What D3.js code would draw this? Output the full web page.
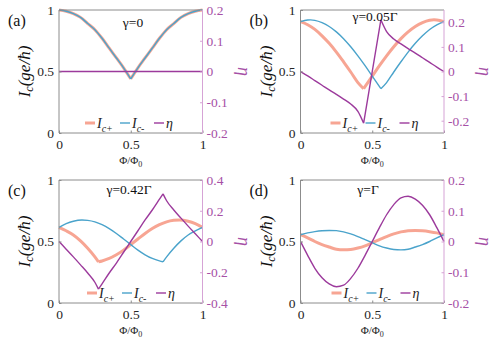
<!DOCTYPE html>
<html>
<head>
<meta charset="utf-8">
<script src="https://cdn.jsdelivr.net/npm/d3@7"></script>
<style>
body { margin: 0; background: #fff; }
svg, svg text { font-family: "Liberation Serif", "Times New Roman", serif; }
svg { display: block; }
</style>
</head>
<body>
<svg id="chart" width="498" height="345"></svg>
<script>
// flux grid, Phi/Phi0
var phi = [0, 0.05, 0.1, 0.15, 0.2, 0.25, 0.3, 0.35, 0.4, 0.45, 0.5,
           0.55, 0.6, 0.65, 0.7, 0.75, 0.8, 0.85, 0.9, 0.95, 1];

// (a) gamma = 0
var icA  = [1.00, 0.99, 0.97, 0.94, 0.89, 0.84, 0.77, 0.69, 0.61, 0.53, 0.44,
            0.53, 0.61, 0.69, 0.77, 0.84, 0.89, 0.94, 0.97, 0.99, 1.00];
var etaA = [0, 0, 0, 0, 0, 0, 0, 0, 0, 0, 0, 0, 0, 0, 0, 0, 0, 0, 0, 0, 0];

// (b) gamma = 0.05 Gamma
var phiPlusB  = [0, 0.05, 0.1, 0.15, 0.2, 0.25, 0.3, 0.35, 0.4, 0.44, 0.5, 0.55,
                 0.6, 0.65, 0.7, 0.75, 0.8, 0.85, 0.9, 0.93, 0.95, 1];
var icPlusB   = [0.905, 0.88, 0.842, 0.79, 0.729, 0.658, 0.579, 0.496, 0.41, 0.36, 0.462, 0.547,
                 0.627, 0.701, 0.767, 0.822, 0.866, 0.897, 0.916, 0.92, 0.919, 0.905];
var phiMinusB = [0, 0.05, 0.07, 0.1, 0.15, 0.2, 0.25, 0.3, 0.35, 0.4, 0.45, 0.5,
                 0.56, 0.6, 0.65, 0.7, 0.75, 0.8, 0.85, 0.9, 0.95, 1];
var icMinusB  = [0.905, 0.919, 0.92, 0.916, 0.897, 0.866, 0.822, 0.767, 0.701, 0.627, 0.547, 0.462,
                 0.36, 0.41, 0.496, 0.579, 0.658, 0.729, 0.79, 0.842, 0.88, 0.905];
var phiEtaB   = [0, 0.05, 0.1, 0.15, 0.2, 0.25, 0.3, 0.35, 0.4, 0.44,
                 0.56, 0.6, 0.65, 0.7, 0.75, 0.8, 0.85, 0.9, 0.95, 1];
var etaB      = [0, -0.018, -0.037, -0.056, -0.075, -0.093, -0.112, -0.132, -0.162, -0.21,
                 0.21, 0.162, 0.132, 0.112, 0.093, 0.075, 0.056, 0.037, 0.018, 0];

// (c) gamma = 0.42 Gamma
var phiPlusC  = [0, 0.05, 0.1, 0.15, 0.2, 0.25, 0.275, 0.3, 0.35, 0.4, 0.45, 0.5,
                 0.55, 0.6, 0.65, 0.7, 0.75, 0.8, 0.84, 0.9, 0.95, 1];
var icPlusC   = [0.615, 0.587, 0.553, 0.505, 0.445, 0.375, 0.335, 0.342, 0.362, 0.392, 0.43, 0.475,
                 0.52, 0.565, 0.605, 0.637, 0.66, 0.672, 0.675, 0.665, 0.645, 0.615];
var phiMinusC = [0, 0.05, 0.1, 0.16, 0.2, 0.25, 0.3, 0.35, 0.4, 0.45, 0.5,
                 0.55, 0.6, 0.65, 0.7, 0.725, 0.75, 0.8, 0.85, 0.9, 0.95, 1];
var icMinusC  = [0.615, 0.645, 0.665, 0.675, 0.672, 0.66, 0.637, 0.605, 0.565, 0.52, 0.475,
                 0.43, 0.392, 0.362, 0.342, 0.335, 0.375, 0.445, 0.505, 0.553, 0.587, 0.615];
var phiEtaC   = [0, 0.05, 0.1, 0.15, 0.2, 0.25, 0.275, 0.3, 0.35, 0.4, 0.45, 0.5,
                 0.55, 0.6, 0.65, 0.7, 0.725, 0.75, 0.8, 0.85, 0.9, 0.95, 1];
var etaC      = [0, -0.05, -0.1, -0.152, -0.205, -0.265, -0.31, -0.275, -0.205, -0.14, -0.07, 0,
                 0.07, 0.14, 0.205, 0.275, 0.31, 0.265, 0.205, 0.152, 0.1, 0.05, 0];

// (d) gamma = Gamma
var icPlusD  = [0.555, 0.53, 0.50, 0.475, 0.455, 0.437, 0.432, 0.435, 0.447, 0.465, 0.49,
                0.515, 0.54, 0.562, 0.578, 0.588, 0.59, 0.587, 0.58, 0.57, 0.555];
var icMinusD = [0.555, 0.57, 0.58, 0.587, 0.59, 0.588, 0.578, 0.562, 0.54, 0.515, 0.49,
                0.465, 0.447, 0.435, 0.432, 0.437, 0.455, 0.475, 0.50, 0.53, 0.555];
var etaD     = [0, -0.045, -0.087, -0.118, -0.138, -0.147, -0.142, -0.12, -0.087, -0.045, 0,
                0.045, 0.087, 0.12, 0.142, 0.147, 0.138, 0.118, 0.087, 0.045, 0];

// cusps (Phi where the curves have a corner)
var cuspsA = [0.5];
var cuspsB = [0.44, 0.56];
var cuspsC = [0.275, 0.725];
var cuspsD = [];

// axis ticks
var xTicks = [0, 0.5, 1];
var icTicks = [0, 0.5, 1];
var etaTicks02 = [-0.2, -0.1, 0, 0.1, 0.2];
var etaTicks04 = [-0.4, -0.2, 0, 0.2, 0.4];

var panelLabels = ["(a)", "(b)", "(c)", "(d)"];
var gammaLabels = ["\u03b3=0", "\u03b3=0.05\u0393", "\u03b3=0.42\u0393", "\u03b3=\u0393"];

var colPlus = "#f7a593",
    colMinus = "#4aa3cb",
    colEta = "#9c3a9c",
    colEtaAxis = "#d6a3d6",
    colEtaText = "#a650a6",
    colAxis = "#8c8c8c",
    colText = "#262626",
    serif = "'Liberation Serif', 'Times New Roman', serif";

function pairs(xs, ys) {
    return xs.map(function(x, i) { return [x, ys[i]]; });
}

var panels = [
    { box: [59, 10, 202.5, 133], etaDomain: [-0.2, 0.2], etaTicks: etaTicks02, cusps: cuspsA,
      plus: pairs(phi, icA), minus: pairs(phi, icA), eta: pairs(phi, etaA),
      titleX: 133, titleY: 26.5, legendX: 26 },
    { box: [300.5, 10, 444, 133], etaDomain: [-0.25, 0.25], etaTicks: etaTicks02, cusps: cuspsB,
      plus: pairs(phiPlusB, icPlusB), minus: pairs(phiMinusB, icMinusB), eta: pairs(phiEtaB, etaB),
      titleX: 375, titleY: 21, legendX: 30 },
    { box: [59, 180, 202.5, 303], etaDomain: [-0.4, 0.4], etaTicks: etaTicks04, cusps: cuspsC,
      plus: pairs(phiPlusC, icPlusC), minus: pairs(phiMinusC, icMinusC), eta: pairs(phiEtaC, etaC),
      titleX: 129, titleY: 194, legendX: 28 },
    { box: [300.5, 180, 444, 303], etaDomain: [-0.2, 0.2], etaTicks: etaTicks02, cusps: cuspsD,
      plus: pairs(phi, icPlusD), minus: pairs(phi, icMinusD), eta: pairs(phi, etaD),
      titleX: 368, titleY: 194, legendX: 31 }
];

var svg = d3.select("#chart");

function fmt(d) {
    return d === 0 ? "0" : String(d);
}

// smooth path that keeps sharp corners at the cusps
function cuspPath(line, pts, cusps) {
    var segs = [[]];
    pts.forEach(function(p) {
        var seg = segs[segs.length - 1];
        seg.push(p);
        if (cusps.some(function(c) { return Math.abs(c - p[0]) < 1e-9; })) {
            segs.push([p]);
        }
    });
    return segs.filter(function(s) { return s.length > 1; })
        .map(function(s) { return line(s); }).join("");
}

function drawPanel(p, idx) {
    var L = p.box[0], T = p.box[1], R = p.box[2], B = p.box[3];
    var x = d3.scaleLinear().domain([0, 1]).range([L, R]);
    var yL = d3.scaleLinear().domain([0, 1]).range([B, T]);
    var yR = d3.scaleLinear().domain(p.etaDomain).range([B, T]);
    var g = svg.append("g");

    // curves
    var lineL = d3.line()
        .x(function(d) { return x(d[0]); })
        .y(function(d) { return yL(d[1]); })
        .curve(d3.curveMonotoneX);
    var lineR = d3.line()
        .x(function(d) { return x(d[0]); })
        .y(function(d) { return yR(d[1]); })
        .curve(d3.curveMonotoneX);

    g.append("path").attr("d", cuspPath(lineL, p.plus, p.cusps))
        .attr("fill", "none").attr("stroke", colPlus).attr("stroke-width", 3);
    g.append("path").attr("d", cuspPath(lineL, p.minus, p.cusps))
        .attr("fill", "none").attr("stroke", colMinus).attr("stroke-width", 1.4);
    g.append("path").attr("d", cuspPath(lineR, p.eta, p.cusps))
        .attr("fill", "none").attr("stroke", colEta).attr("stroke-width", 1.4);

    // axes (ticks point inward)
    var ax = g.append("g").attr("transform", "translate(0," + B + ")")
        .call(d3.axisBottom(x).tickValues(xTicks).tickFormat(fmt)
            .tickSize(-2.5).tickSizeOuter(0).tickPadding(6));
    var ay = g.append("g").attr("transform", "translate(" + L + ",0)")
        .call(d3.axisLeft(yL).tickValues(icTicks).tickFormat(fmt)
            .tickSize(-2.5).tickSizeOuter(0).tickPadding(5));
    var ar = g.append("g").attr("transform", "translate(" + R + ",0)")
        .call(d3.axisRight(yR).tickValues(p.etaTicks).tickFormat(fmt)
            .tickSize(-2.5).tickSizeOuter(0).tickPadding(4));

    [ax, ay, ar].forEach(function(a) {
        a.attr("font-family", null).style("font-family", serif).attr("font-size", 13.5);
        a.select(".domain").remove();
    });
    [ax, ay].forEach(function(a) {
        a.selectAll("line").attr("stroke", colAxis);
        a.selectAll("text").attr("fill", colText);
    });
    ar.selectAll("line").attr("stroke", colEtaAxis);
    ar.selectAll("text").attr("fill", colEtaText);

    // box
    g.append("path")
        .attr("d", "M" + R + "," + T + "H" + L + "V" + B + "H" + R)
        .attr("fill", "none").attr("stroke", colAxis).attr("stroke-width", 1);
    g.append("line")
        .attr("x1", R).attr("x2", R).attr("y1", T).attr("y2", B)
        .attr("stroke", colEtaAxis).attr("stroke-width", 1);

    // panel label and gamma
    g.append("text").attr("x", L - 51).attr("y", T + 16)
        .attr("font-size", 16).attr("fill", "#111").text(panelLabels[idx]);
    g.append("text").attr("x", p.titleX).attr("y", p.titleY)
        .attr("text-anchor", "middle").attr("font-size", 13.5).attr("fill", "#111")
        .text(gammaLabels[idx]);

    // y label left
    var yl = g.append("text")
        .attr("transform", "translate(" + (L - 29) + "," + ((T + B) / 2) + ") rotate(-90)")
        .attr("text-anchor", "middle").attr("font-size", 17).attr("fill", "#111")
        .attr("font-style", "italic");
    yl.append("tspan").text("I");
    yl.append("tspan").attr("font-size", 12).attr("dy", 3).text("c");
    yl.append("tspan").attr("dy", -3).text("(ge/\u0127)");

    // y label right
    g.append("text")
        .attr("transform", "translate(" + (R + 35) + "," + ((T + B) / 2) + ") rotate(90)")
        .attr("text-anchor", "middle").attr("font-size", 18).attr("fill", colEtaText)
        .attr("font-style", "italic").text("\u03b7");

    // x label
    var xl = g.append("text").attr("x", (L + R) / 2).attr("y", B + 31)
        .attr("text-anchor", "middle").attr("font-size", 11).attr("fill", colText);
    xl.append("tspan").text("\u03a6/\u03a6");
    xl.append("tspan").attr("font-size", 8).attr("dy", 3).text("0");

    // legend
    var ly = B - 10, lx = L + p.legendX;
    var items = [
        { col: colPlus, w: 3, sub: "c+", off: 0 },
        { col: colMinus, w: 1.4, sub: "c-", off: 35 },
        { col: colEta, w: 1.4, sub: null, off: 69 }
    ];
    items.forEach(function(it) {
        g.append("line")
            .attr("x1", lx + it.off).attr("x2", lx + it.off + 10)
            .attr("y1", ly).attr("y2", ly)
            .attr("stroke", it.col).attr("stroke-width", it.w);
        var t = g.append("text").attr("x", lx + it.off + 12).attr("y", ly + 5)
            .attr("font-size", 14).attr("font-style", "italic").attr("fill", "#222");
        if (it.sub) {
            t.append("tspan").text("I");
            t.append("tspan").attr("font-size", 10).attr("dy", 4).text(it.sub);
        } else {
            t.text("\u03b7");
        }
    });
}

panels.forEach(drawPanel);
</script>
</body>
</html>
